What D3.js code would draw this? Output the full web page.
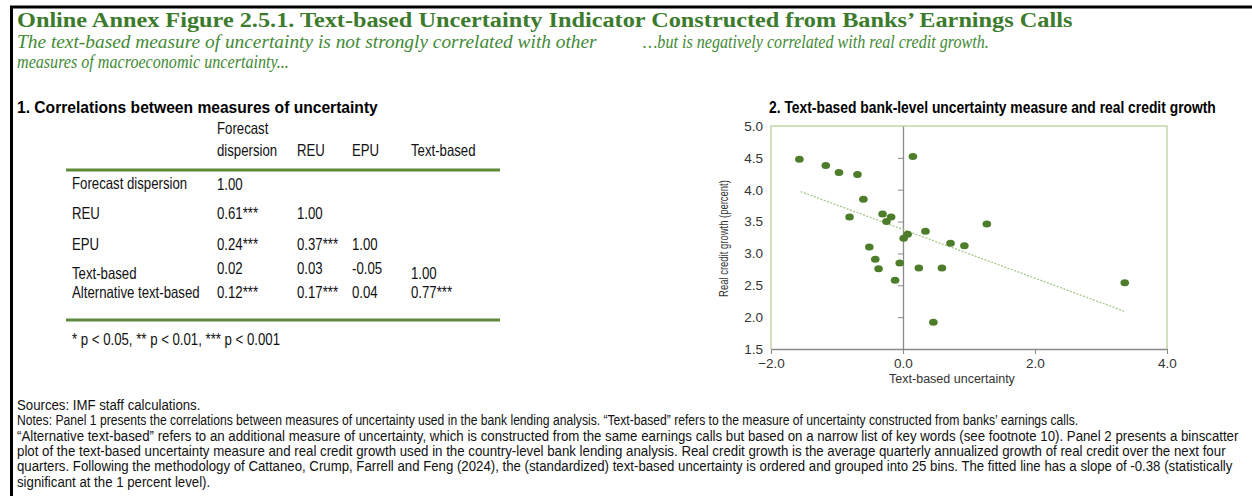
<!DOCTYPE html>
<html>
<head>
<meta charset="utf-8">
<script src="https://cdn.jsdelivr.net/npm/d3@7"></script>
<style>
  body { margin: 0; background: #fff; }
</style>
</head>
<body>
<div id="chart"></div>
<script>
// ---- data ----
const titleText = "Online Annex Figure 2.5.1. Text-based Uncertainty Indicator Constructed from Banks’ Earnings Calls";
const subLeft = ["The text-based measure of uncertainty is not strongly correlated with other", "measures of macroeconomic uncertainty..."];
const subRight = "…but is negatively correlated with real credit growth.";
const panel1Title = "1. Correlations between measures of uncertainty";
const panel2Title = "2. Text-based bank-level uncertainty measure and real credit growth";

const colHeaders = [["Forecast", "dispersion"], ["REU"], ["EPU"], ["Text-based"]];
const rowLabels = ["Forecast dispersion", "REU", "EPU", "Text-based", "Alternative text-based"];
const corrValues = [
  ["1.00", "", "", ""],
  ["0.61***", "1.00", "", ""],
  ["0.24***", "0.37***", "1.00", ""],
  ["0.02", "0.03", "-0.05", "1.00"],
  ["0.12***", "0.17***", "0.04", "0.77***"]
];
const sigNote = "* p < 0.05, ** p < 0.01, *** p < 0.001";

// binscatter: text-based uncertainty (x) vs real credit growth (y)
const binX = [-1.57, -1.17, -0.97, -0.69, -0.60, -0.81, -0.31, -0.18, -0.25, -0.51, -0.42, -0.37, -0.12,
  -0.05, 0.01, 0.07, 0.15, 0.24, 0.34, 0.46, 0.59, 0.72, 0.93, 1.27, 3.36];
const binY = [4.48, 4.38, 4.27, 4.24, 3.85, 3.57, 3.62, 3.57, 3.50, 3.10, 2.91, 2.76, 2.58,
  2.85, 3.24, 3.30, 4.52, 2.77, 3.35, 1.92, 2.77, 3.16, 3.12, 3.46, 2.54];
const fitX = [-1.55, 3.36];
const fitY = [3.97, 2.09];
const xTicks = [-2, 0, 2, 4];
const yTicks = [1.5, 2.0, 2.5, 3.0, 3.5, 4.0, 4.5, 5.0];
const xTitle = "Text-based uncertainty";
const yTitle = "Real credit growth (percent)";

const notes = [
  "Sources: IMF staff calculations.",
  "Notes: Panel 1 presents the correlations between measures of uncertainty used in the bank lending analysis. “Text-based” refers to the measure of uncertainty constructed from banks’ earnings calls.",
  "“Alternative text-based” refers to an additional measure of uncertainty, which is constructed from the same earnings calls but based on a narrow list of key words (see footnote 10). Panel 2 presents a binscatter",
  "plot of the text-based uncertainty measure and real credit growth used in the country-level bank lending analysis. Real credit growth is the average quarterly annualized growth of real credit over the next four",
  "quarters. Following the methodology of Cattaneo, Crump, Farrell and Feng (2024), the (standardized) text-based uncertainty is ordered and grouped into 25 bins. The fitted line has a slope of -0.38 (statistically",
  "significant at the 1 percent level)."
];

// ---- page ----
const W = 1252, H = 496;
const serif = "'Liberation Serif', 'Times New Roman', serif";
const sans = "'Liberation Sans', Arial, sans-serif";
const green = "#3c7b2d";
const narrowScale = 0.8; // the source uses a condensed Arial

const svg = d3.select("#chart").append("svg")
  .attr("width", W)
  .attr("height", H);

// place a text at (x, y), squeezed horizontally by s (or to a target width)
function squeeze(sel, x, y, s) {
  sel.attr("x", 0).attr("y", 0)
    .attr("transform", `translate(${x},${y}) scale(${s},1)`);
  return s;
}
function squeezeTo(sel, x, y, width) {
  const w = sel.node().getComputedTextLength();
  return squeeze(sel, x, y, width / w);
}

// frame
svg.append("line").attr("x1", 10).attr("x2", W).attr("y1", 7).attr("y2", 7)
  .attr("stroke", "#000").attr("stroke-width", 3);
svg.append("line").attr("x1", 11.5).attr("x2", 11.5).attr("y1", 6).attr("y2", H)
  .attr("stroke", "#000").attr("stroke-width", 3);

// title and subtitles
svg.append("text")
  .attr("font-family", serif).attr("font-weight", "bold").attr("font-size", 22)
  .attr("fill", green)
  .text(titleText)
  .call(squeezeTo, 17, 27, 1056);

const subWidths = [580, 272];
subLeft.forEach((s, i) => {
  svg.append("text")
    .attr("font-family", serif).attr("font-style", "italic").attr("font-size", 18)
    .attr("fill", "#438a36")
    .text(s)
    .call(squeezeTo, 17, 48 + i * 20, subWidths[i]);
});

svg.append("text")
  .attr("font-family", serif).attr("font-style", "italic").attr("font-size", 18)
  .attr("fill", "#438a36")
  .text(subRight)
  .call(squeezeTo, 643, 48, 346);

// panel titles
svg.append("text")
  .attr("font-family", sans).attr("font-weight", "bold").attr("font-size", 17)
  .text(panel1Title)
  .call(squeezeTo, 17, 113, 361);
svg.append("text")
  .attr("font-family", sans).attr("font-weight", "bold").attr("font-size", 17)
  .text(panel2Title)
  .call(squeezeTo, 769, 113, 447);

// ---- panel 1: correlation table ----
const table = svg.append("g")
  .attr("font-family", sans)
  .attr("font-size", 16.5)
  .attr("fill", "#111");

const colX = d3.scaleOrdinal().domain(d3.range(colHeaders.length)).range([217, 297, 352, 411]);
const rowY = d3.scaleOrdinal().domain(d3.range(rowLabels.length)).range([189, 219, 250, 279, 298]);
const headerBase = 156, headerLead = 22;
const ruleColor = "#5f8a3a";

// column headers, bottom aligned
colHeaders.forEach((lines, c) => {
  lines.forEach((t, i) => {
    table.append("text").text(t)
      .call(squeeze, colX(c), headerBase - (lines.length - 1 - i) * headerLead, narrowScale);
  });
});

table.append("line")
  .attr("x1", 66).attr("x2", 500).attr("y1", 170).attr("y2", 170)
  .attr("stroke", ruleColor).attr("stroke-width", 3);

rowLabels.forEach((t, r) => {
  table.append("text").text(t).call(squeeze, 72, rowY(r), narrowScale);
});

// small vertical offset seen in the source for some cells
const cellShift = (r, c) => (r === 3 && c < 3 ? -5 : r === 0 ? 1 : 0);

corrValues.forEach((row, r) => {
  row.forEach((v, c) => {
    if (v === "") return;
    table.append("text").text(v)
      .call(squeeze, colX(c), rowY(r) + cellShift(r, c), narrowScale);
  });
});

table.append("line")
  .attr("x1", 66).attr("x2", 500).attr("y1", 320).attr("y2", 320)
  .attr("stroke", ruleColor).attr("stroke-width", 3);

table.append("text").text(sigNote).call(squeeze, 72, 345, narrowScale);

// ---- panel 2: binscatter ----
const plot = { left: 771, right: 1167, top: 126, bottom: 349 };

const x = d3.scaleLinear().domain([-2, 4]).range([plot.left, plot.right]);
const y = d3.scaleLinear().domain([1.5, 5]).range([plot.bottom, plot.top]);

// light green plot frame
svg.append("path")
  .attr("d", `M${plot.left},${plot.bottom}V${plot.top}H${plot.right}V${plot.bottom}`)
  .attr("fill", "none")
  .attr("stroke", "#c4d8a6")
  .attr("stroke-width", 1.5);

// y tick labels on the left edge
const yLab = svg.append("g")
  .attr("transform", `translate(${plot.left},0)`)
  .call(d3.axisLeft(y).tickValues(yTicks).tickFormat(d3.format(".1f")).tickSize(0).tickPadding(8));
yLab.select(".domain").remove();
yLab.selectAll("text").attr("font-family", sans).attr("font-size", 13.5).attr("fill", "#333");

// y axis line at x = 0 with small ticks
const yAx = svg.append("g")
  .attr("transform", `translate(${x(0)},0)`)
  .call(d3.axisLeft(y).tickValues(yTicks.slice(1, -1)).tickFormat("").tickSizeInner(5).tickSizeOuter(0));
yAx.select(".domain").attr("stroke", "#8a8a8a").attr("stroke-width", 1.3);
yAx.selectAll(".tick line").attr("stroke", "#8a8a8a");

// x axis at the bottom
const xAx = svg.append("g")
  .attr("transform", `translate(0,${plot.bottom})`)
  .call(d3.axisBottom(x).tickValues(xTicks).tickFormat(d3.format(".1f")).tickSizeInner(5).tickSizeOuter(0).tickPadding(4));
xAx.select(".domain").attr("stroke", "#8a8a8a").attr("stroke-width", 1.3);
xAx.selectAll(".tick line").attr("stroke", "#8a8a8a");
xAx.selectAll("text").attr("font-family", sans).attr("font-size", 13.5).attr("fill", "#333");

// axis titles
svg.append("text")
  .attr("x", 952).attr("y", 383)
  .attr("text-anchor", "middle")
  .attr("font-family", sans).attr("font-size", 12.5).attr("fill", "#333")
  .text(xTitle);
svg.append("text")
  .attr("text-anchor", "middle")
  .attr("font-family", sans).attr("font-size", 13).attr("fill", "#333")
  .text(yTitle)
  .attr("transform", function () {
    const s = 117 / this.getComputedTextLength();
    return `translate(728,${(plot.top + plot.bottom) / 2 + 1}) rotate(-90) scale(${s},1)`;
  });

// fitted line
svg.append("path")
  .datum(fitX.map((d, i) => [d, fitY[i]]))
  .attr("fill", "none")
  .attr("stroke", "#a7c78a")
  .attr("stroke-width", 1.3)
  .attr("stroke-dasharray", "2,1.5")
  .attr("d", d3.line().x((d) => x(d[0])).y((d) => y(d[1])));

// bins
svg.selectAll("ellipse.bin")
  .data(binX.map((d, i) => ({ x: d, y: binY[i] })))
  .join("ellipse")
  .attr("class", "bin")
  .attr("cx", (d) => x(d.x))
  .attr("cy", (d) => y(d.y))
  .attr("rx", 4.3)
  .attr("ry", 3.5)
  .attr("fill", "#4d7d2a");

// ---- notes ----
// full-width lines are fitted to the measured widths; short lines reuse that squeeze
const noteWidths = [null, 1063, 1223, 1209, 1217, null];
const notesG = svg.append("g")
  .attr("font-family", sans)
  .attr("font-size", 15)
  .attr("fill", "#111");
const noteEls = notes.map((t) => notesG.append("text").text(t));
let noteScale = 0.75;
noteEls.forEach((el, i) => {
  if (noteWidths[i]) noteScale = squeezeTo(el, 17, 410 + i * 15.3, noteWidths[i]);
});
noteEls.forEach((el, i) => {
  if (!noteWidths[i]) squeeze(el, 17, 410 + i * 15.3, noteScale);
});
</script>
</body>
</html>
